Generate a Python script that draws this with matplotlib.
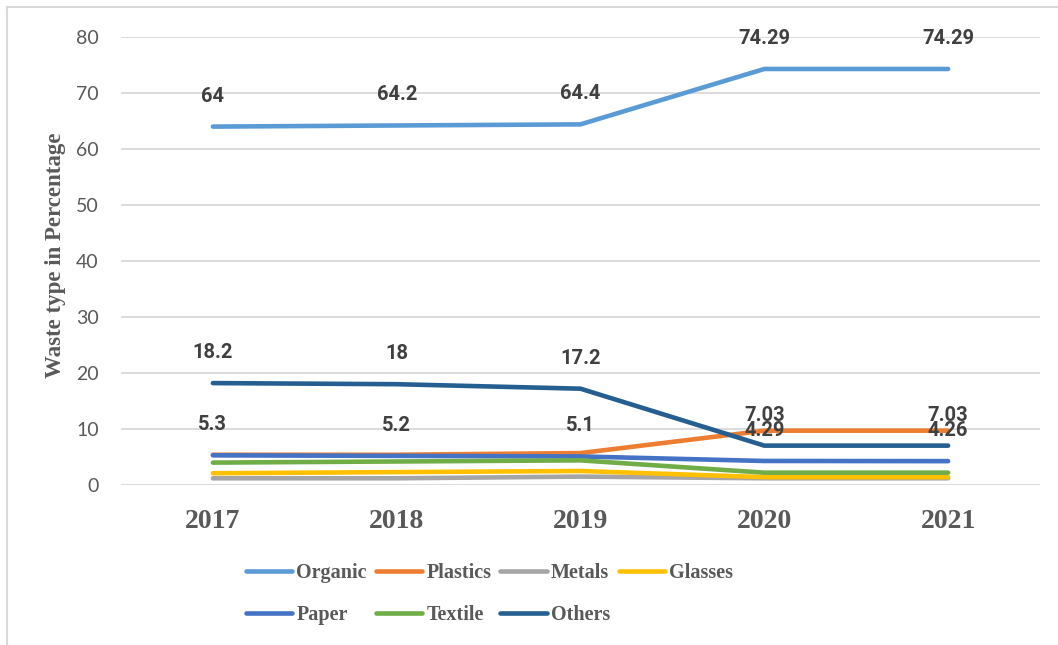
import matplotlib.pyplot as plt
from matplotlib.lines import Line2D

years = ['2017', '2018', '2019', '2020', '2021']
organic = [64, 64.2, 64.4, 74.29, 74.29]
plastics = [5.4, 5.4, 5.7, 9.7, 9.7]
metals = [1.2, 1.2, 1.5, 1.2, 1.2]
glasses = [2.1, 2.3, 2.5, 1.4, 1.4]
paper = [5.3, 5.2, 5.1, 4.29, 4.26]
textile = [4.0, 4.2, 4.4, 2.2, 2.2]
others = [18.2, 18, 17.2, 7.03, 7.03]

series = [
    ('Organic', organic, '#5B9BD5', True),
    ('Plastics', plastics, '#ED7D31', False),
    ('Metals', metals, '#A5A5A5', False),
    ('Glasses', glasses, '#FFC000', False),
    ('Paper', paper, '#4472C4', True),
    ('Textile', textile, '#70AD47', False),
    ('Others', others, '#255E91', True),
]

W, H = 1058, 645
fig = plt.figure(figsize=(W / 100, H / 100), dpi=100)
ax = fig.add_axes([121 / W, 1 - 485 / H, (1040 - 121) / W, 448 / H])

x = list(range(len(years)))
lines = {}
for name, vals, color, labelled in series:
    ln, = ax.plot(x, vals, color=color, lw=3.3, solid_capstyle='round',
                  solid_joinstyle='round', label=name)
    lines[name] = ln
    if labelled:
        for xi, v in zip(x, vals):
            ax.annotate(f'{v:g}', (xi, v), xytext=(0, 22), textcoords='offset points',
                        ha='center', va='center', fontsize=14.5, fontweight='bold',
                        family='Roboto', color='#404040')

ax.set_xlim(-0.5, len(years) - 0.5)
ax.set_ylim(0, 80)
ax.set_yticks(range(0, 81, 10))
ax.set_xticks(x)
ax.set_xticklabels(years, family='Liberation Serif', fontweight='bold',
                   fontsize=20, color='#595959')
for t in ax.get_yticklabels():
    t.set_family('Lato')
    t.set_fontsize(14)
    t.set_color('#595959')
ax.tick_params(axis='both', length=0)
ax.tick_params(axis='y', pad=16)
ax.tick_params(axis='x', pad=17)
ax.grid(axis='y', color='#D9D9D9', lw=1.3)
ax.set_axisbelow(True)
for s in ax.spines.values():
    s.set_visible(False)

fig.text(55 / W, 1 - 255 / H, 'Waste type in Percentage', rotation=90,
         ha='center', va='center', family='Liberation Serif', fontweight='bold',
         fontsize=16.5, color='#595959')

order = ['Organic', 'Paper', 'Plastics', 'Textile', 'Metals', 'Others', 'Glasses']
leg = fig.legend([lines[n] for n in order], order, ncol=4, loc='center left',
                 bbox_to_anchor=(246 / W, 1 - 594 / H), frameon=False,
                 borderpad=0, borderaxespad=0, handlelength=2.3, handletextpad=0.2,
                 columnspacing=0.45, labelspacing=1.1,
                 prop={'family': 'Liberation Serif', 'weight': 'bold', 'size': 14.5})
for t in leg.get_texts():
    t.set_color('#595959')

# chart border
fig.add_artist(Line2D([7 / W, 7 / W], [0, 1 - 7 / H], color='#D9D9D9', lw=1.5))
fig.add_artist(Line2D([7 / W, 1], [1 - 7 / H, 1 - 7 / H], color='#D9D9D9', lw=1.5))

fig.savefig('out.png', dpi=100)
